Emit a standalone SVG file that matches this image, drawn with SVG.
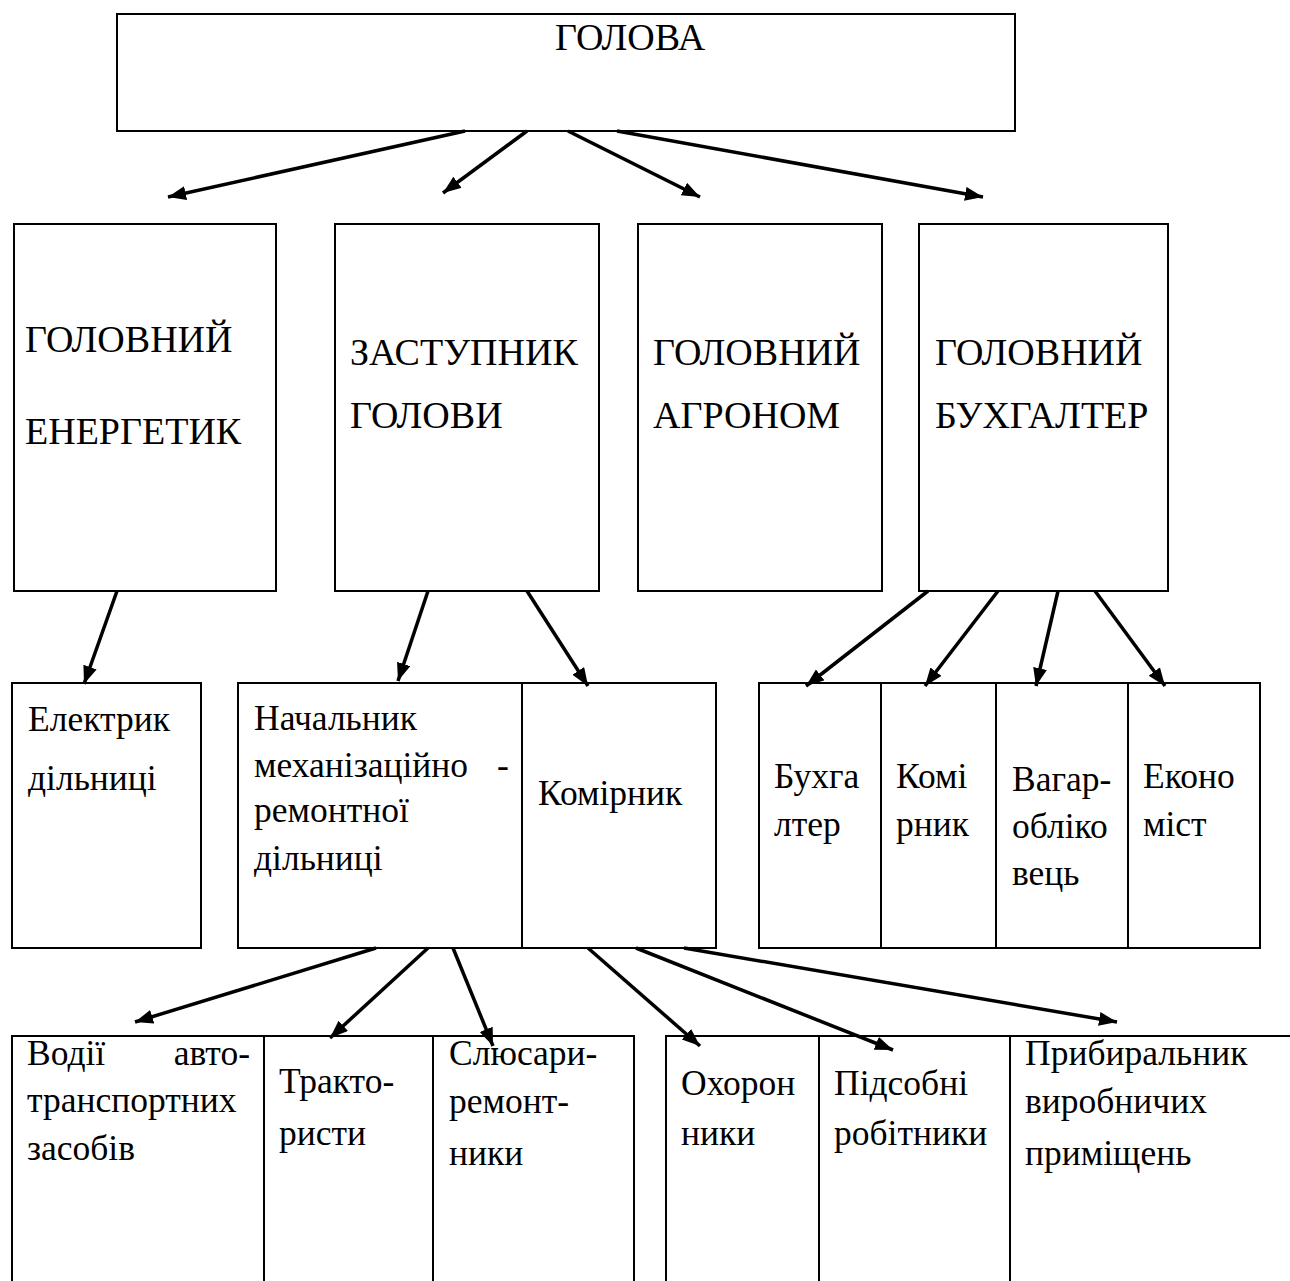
<svg xmlns="http://www.w3.org/2000/svg" width="1290" height="1281" viewBox="0 0 1290 1281">
<style>
rect, .div { fill: none; stroke: #000; stroke-width: 2; }
text { font-family: "Liberation Serif", "Times New Roman", serif; fill: #000; }
.big { font-size: 38px; }
.mid { font-size: 35.5px; }
.cn line { stroke: #000; stroke-width: 3.5; marker-end: url(#ah); }
</style>
<defs>
<marker id="ah" markerUnits="userSpaceOnUse" markerWidth="20" markerHeight="16" refX="18" refY="7" orient="auto">
<path d="M0,0 L18,7 L0,14 Z" fill="#000"/>
</marker>
</defs>
<rect width="1290" height="1281" fill="#fff" style="stroke:none"/>

<g id="n-golova">
<rect x="117" y="14" width="898" height="117"/>
<text class="big" x="630" y="50" text-anchor="middle">ГОЛОВА</text>
</g>

<g id="n-energetyk">
<rect x="14" y="224" width="262" height="367"/>
<text class="big" x="25" y="352">ГОЛОВНИЙ</text>
<text class="big" x="25" y="444">ЕНЕРГЕТИК</text>
</g>
<g id="n-zastupnyk">
<rect x="335" y="224" width="264" height="367"/>
<text class="big" x="350" y="365">ЗАСТУПНИК</text>
<text class="big" x="350" y="428">ГОЛОВИ</text>
</g>
<g id="n-agronom">
<rect x="638" y="224" width="244" height="367"/>
<text class="big" x="653" y="365">ГОЛОВНИЙ</text>
<text class="big" x="653" y="428">АГРОНОМ</text>
</g>
<g id="n-buhhalter">
<rect x="919" y="224" width="249" height="367"/>
<text class="big" x="935" y="365">ГОЛОВНИЙ</text>
<text class="big" x="935" y="428">БУХГАЛТЕР</text>
</g>

<g id="n-elektryk">
<rect x="12" y="683" width="189" height="265"/>
<text class="mid" x="28" y="731">Електрик</text>
<text class="mid" x="28" y="790">дільниці</text>
</g>
<g id="n-nachalnyk">
<rect x="238" y="683" width="284" height="265"/>
<text class="mid" x="254" y="730">Начальник</text>
<text class="mid" x="254" y="777">механізаційно</text>
<text class="mid" x="497" y="777">-</text>
<text class="mid" x="254" y="822">ремонтної</text>
<text class="mid" x="254" y="870">дільниці</text>
</g>
<g id="n-komirnyk">
<rect x="522" y="683" width="194" height="265"/>
<text class="mid" x="538" y="805">Комірник</text>
</g>
<g id="n-buhh2">
<rect x="759" y="683" width="122" height="265"/>
<text class="mid" x="774" y="788">Бухга</text>
<text class="mid" x="774" y="836">лтер</text>
</g>
<g id="n-komirnyk2">
<rect x="881" y="683" width="115" height="265"/>
<text class="mid" x="896" y="788">Комі</text>
<text class="mid" x="896" y="836">рник</text>
</g>
<g id="n-vagar">
<rect x="996" y="683" width="132" height="265"/>
<text class="mid" x="1012" y="791">Вагар-</text>
<text class="mid" x="1012" y="838">обліко</text>
<text class="mid" x="1012" y="885">вець</text>
</g>
<g id="n-ekonomist">
<rect x="1128" y="683" width="132" height="265"/>
<text class="mid" x="1143" y="788">Еконо</text>
<text class="mid" x="1143" y="836">міст</text>
</g>

<g id="n-vodii">
<path class="div" d="M12,1281 V1036 H264 V1281"/>
<text class="mid" x="27" y="1065">Водії</text>
<text class="mid" x="250" y="1065" text-anchor="end">авто-</text>
<text class="mid" x="27" y="1112">транспортних</text>
<text class="mid" x="27" y="1160">засобів</text>
</g>
<g id="n-traktorysty">
<path class="div" d="M264,1036 H433 V1281"/>
<text class="mid" x="279" y="1093">Тракто-</text>
<text class="mid" x="279" y="1145">ристи</text>
</g>
<g id="n-slyusari">
<path class="div" d="M433,1036 H634 V1281"/>
<text class="mid" x="449" y="1065">Слюсари-</text>
<text class="mid" x="449" y="1113">ремонт-</text>
<text class="mid" x="449" y="1165">ники</text>
</g>
<g id="n-okhoronnyky">
<path class="div" d="M666,1281 V1036 H819 V1281"/>
<text class="mid" x="681" y="1095">Охорон</text>
<text class="mid" x="681" y="1145">ники</text>
</g>
<g id="n-pidsobni">
<path class="div" d="M819,1036 H1010 V1281"/>
<text class="mid" x="834" y="1095">Підсобні</text>
<text class="mid" x="834" y="1145">робітники</text>
</g>
<g id="n-prybyralnyk">
<path class="div" d="M1010,1036 H1290"/>
<text class="mid" x="1025" y="1065">Прибиральник</text>
<text class="mid" x="1025" y="1113">виробничих</text>
<text class="mid" x="1025" y="1165">приміщень</text>
</g>

<g id="connectors" class="cn">
<line x1="465" y1="131" x2="168" y2="197"/>
<line x1="527" y1="131" x2="443" y2="193"/>
<line x1="568" y1="131" x2="700" y2="197"/>
<line x1="617" y1="131" x2="983" y2="197"/>
<line x1="117" y1="591" x2="84" y2="684"/>
<line x1="428" y1="591" x2="398" y2="681"/>
<line x1="527" y1="591" x2="588" y2="686"/>
<line x1="928" y1="591" x2="806" y2="686"/>
<line x1="998" y1="591" x2="925" y2="686"/>
<line x1="1058" y1="591" x2="1036" y2="686"/>
<line x1="1095" y1="591" x2="1165" y2="686"/>
<line x1="376" y1="948" x2="135" y2="1022"/>
<line x1="428" y1="948" x2="330" y2="1038"/>
<line x1="453" y1="948" x2="493" y2="1046"/>
<line x1="588" y1="948" x2="700" y2="1046"/>
<line x1="636" y1="948" x2="893" y2="1050"/>
<line x1="684" y1="948" x2="1117" y2="1022"/>
</g>
</svg>
